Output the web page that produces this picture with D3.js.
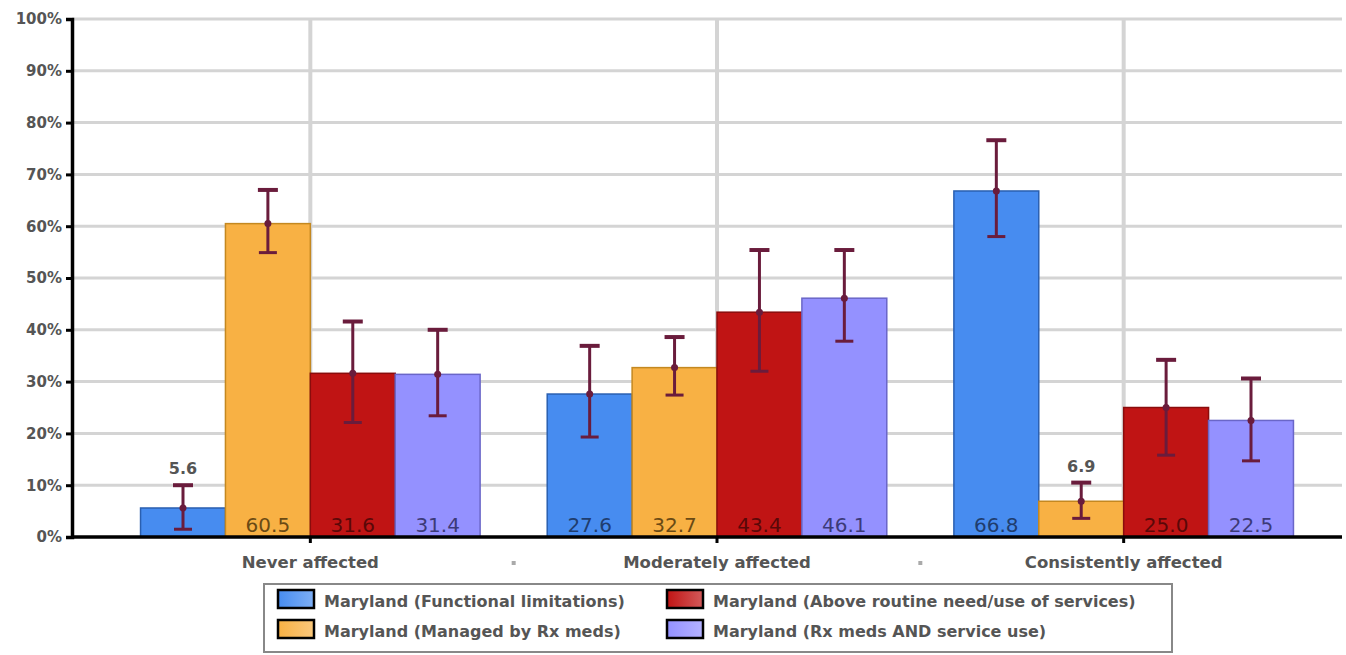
<!DOCTYPE html>
<html><head><meta charset="utf-8">
<script src="https://cdn.jsdelivr.net/npm/d3@7"></script>
<style>body{margin:0;background:#fff}svg{display:block}</style>
</head><body><svg id="c" width="1346" height="655"></svg>
<script>
const categories = ["Never affected", "Moderately affected", "Consistently affected"];
const seriesNames = [
  "Maryland (Functional limitations)",
  "Maryland (Managed by Rx meds)",
  "Maryland (Above routine need/use of services)",
  "Maryland (Rx meds AND service use)"
];
const functionalLimitations = [5.6, 27.6, 66.8];
const managedByRx = [60.5, 32.7, 6.9];
const aboveRoutine = [31.6, 43.4, 25.0];
const rxAndService = [31.4, 46.1, 22.5];
const lowerCI = [[1.5, 19.3, 58.0], [54.9, 27.4, 3.6], [22.1, 32.0, 15.8], [23.4, 37.8, 14.7]];
const upperCI = [[10.0, 36.9, 76.6], [67.0, 38.6, 10.5], [41.6, 55.4, 34.2], [40.0, 55.4, 30.6]];
const yTicks = [0, 10, 20, 30, 40, 50, 60, 70, 80, 90, 100];
const yTickLabels = ["0%", "10%", "20%", "30%", "40%", "50%", "60%", "70%", "80%", "90%", "100%"];

const values = [functionalLimitations, managedByRx, aboveRoutine, rxAndService];
const fills = ["#478cf0", "#f8b144", "#c01414", "#9491ff"];
const strokes = ["#2a5fb0", "#c48820", "#8a0c0c", "#6a66c8"];
const labelCols = ["#1f3d6e", "#6a4a14", "#5a0808", "#3c3a78"];

const svg = d3.select("#c");
const font = "'DejaVu Sans', Verdana, sans-serif";
const y = d3.scaleLinear().domain([0, 100]).range([537, 19]);
const x0 = d3.scaleBand().domain(categories).range([107, 1327]).paddingInner(0.165).paddingOuter(0.0825);
const x1 = d3.scaleBand().domain(d3.range(4)).range([0, x0.bandwidth()]);

// gridlines
svg.append("g").selectAll("line").data(yTicks.slice(1)).join("line")
  .attr("x1", 72).attr("x2", 1342).attr("y1", d => y(d)).attr("y2", d => y(d))
  .attr("stroke", "#d4d4d4").attr("stroke-width", 3);
svg.append("g").selectAll("line").data(categories).join("line")
  .attr("x1", d => x0(d) + x0.bandwidth() / 2).attr("x2", d => x0(d) + x0.bandwidth() / 2)
  .attr("y1", y(100)).attr("y2", y(0))
  .attr("stroke", "#d4d4d4").attr("stroke-width", 4);

// y axis
const yAxis = svg.append("g").attr("transform", "translate(72,0)")
  .call(d3.axisLeft(y).tickValues(yTicks).tickFormat((d, i) => yTickLabels[i]).tickSize(6).tickPadding(4));
yAxis.select(".domain").attr("stroke", "#000").attr("stroke-width", 3.5);
yAxis.selectAll(".tick line").attr("stroke", "#000").attr("stroke-width", 3);
yAxis.selectAll("text").attr("font-family", font).attr("font-weight", "bold").attr("font-size", 15).attr("fill", "#555");

// bars
const groups = svg.append("g").selectAll("g").data(categories).join("g")
  .attr("transform", d => `translate(${x0(d)},0)`);
groups.each(function (cat, ci) {
  const g = d3.select(this);
  for (let s = 0; s < 4; s++) {
    const v = values[s][ci];
    g.append("rect").attr("x", x1(s)).attr("width", x1.bandwidth())
      .attr("y", y(v)).attr("height", y(0) - y(v))
      .attr("fill", fills[s]).attr("stroke", strokes[s]).attr("stroke-width", 1.5);
  }
});

// x axis
const xAxis = svg.append("g").attr("transform", `translate(0,${y(0)})`)
  .call(d3.axisBottom(x0).tickSize(6).tickPadding(13).tickSizeOuter(0));
xAxis.select(".domain").attr("stroke", "#000").attr("stroke-width", 3.5).attr("d", "M72,0H1342");
xAxis.selectAll(".tick line").attr("stroke", "#000").attr("stroke-width", 3);
xAxis.selectAll("text").attr("font-family", font).attr("font-weight", "bold").attr("font-size", 16.5).attr("fill", "#555");
// separator dots
svg.append("g").selectAll("rect").data(categories.slice(1)).join("rect")
  .attr("x", d => x0(d) - x0.step() * x0.paddingInner() / 2 - 2).attr("y", 561)
  .attr("width", 4).attr("height", 4).attr("fill", "#aaa");

// error bars + labels
groups.each(function (cat, ci) {
  const g = d3.select(this);
  for (let s = 0; s < 4; s++) {
    const v = values[s][ci];
    const cx = x1(s) + x1.bandwidth() / 2;
    const lo = lowerCI[s][ci], hi = upperCI[s][ci];
    const col = "#6a1c3c";
    g.append("line").attr("x1", cx).attr("x2", cx).attr("y1", y(hi)).attr("y2", y(lo))
      .attr("stroke", col).attr("stroke-width", 3);
    g.append("line").attr("x1", cx - 10).attr("x2", cx + 10).attr("y1", y(hi)).attr("y2", y(hi))
      .attr("stroke", col).attr("stroke-width", 4);
    g.append("line").attr("x1", cx - 9).attr("x2", cx + 9).attr("y1", y(lo)).attr("y2", y(lo))
      .attr("stroke", col).attr("stroke-width", 3);
    g.append("circle").attr("cx", cx).attr("cy", y(v)).attr("r", 3.5).attr("fill", col);
    if (v < 10) {
      g.append("text").attr("x", cx).attr("y", y(hi) - 11).attr("text-anchor", "middle")
        .attr("font-family", font).attr("font-weight", "bold").attr("font-size", 16).attr("fill", "#555")
        .text(d3.format(".1f")(v));
    } else {
      g.append("text").attr("x", cx).attr("y", 532).attr("text-anchor", "middle")
        .attr("font-family", font).attr("font-size", 20).attr("fill", labelCols[s])
        .text(d3.format(".1f")(v));
    }
  }
});

// legend
const defs = svg.append("defs");
fills.forEach((c, i) => {
  const gr = defs.append("linearGradient").attr("id", "lg" + i);
  gr.append("stop").attr("offset", "0%").attr("stop-color", c);
  gr.append("stop").attr("offset", "100%").attr("stop-color", d3.interpolateRgb(c, "#fff")(0.3));
});
svg.append("rect").attr("x", 264).attr("y", 584).attr("width", 908).attr("height", 68)
  .attr("fill", "#fff").attr("stroke", "#888").attr("stroke-width", 2);
const legPos = [[278, 590], [278, 620], [667, 590], [667, 620]];
seriesNames.forEach((n, i) => {
  const [lx, ly] = legPos[i];
  svg.append("rect").attr("x", lx).attr("y", ly).attr("width", 36).attr("height", 18)
    .attr("fill", `url(#lg${i})`).attr("stroke", "#000").attr("stroke-width", 2.5);
  svg.append("text").attr("x", lx + 46).attr("y", ly + 17)
    .attr("font-family", font).attr("font-weight", "bold").attr("font-size", 16).attr("fill", "#555")
    .text(n);
});
</script></body></html>
